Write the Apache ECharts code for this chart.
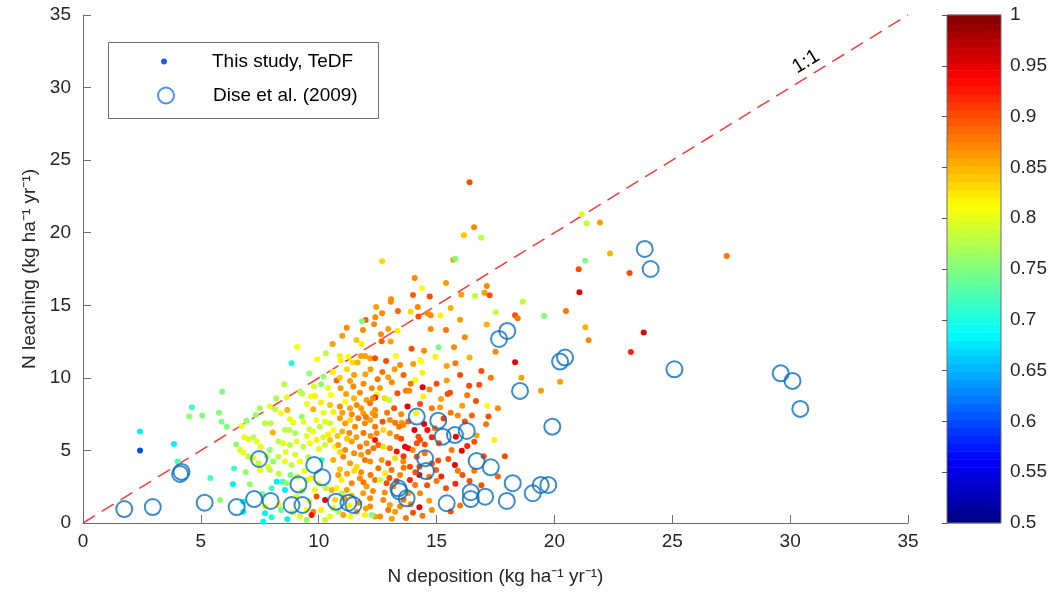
<!DOCTYPE html>
<html><head><meta charset="utf-8">
<script src="https://cdn.jsdelivr.net/npm/echarts@6/dist/echarts.min.js"></script>
<style>html,body{margin:0;padding:0;background:#fff}#c{width:1054px;height:602px}</style>
</head><body><div id="c"></div>
<script>
// ---- DATA ----
// This study, TeDF: [N deposition, N leaching, colour value]
const teDF = [
[2.42,6.30,0.68],[2.42,4.99,0.60],[3.86,5.45,0.68],[4.02,4.23,0.72],[4.62,7.97,0.72],[4.51,7.33,0.76],[5.06,7.40,0.75],[5.77,7.60,0.75],[5.90,9.05,0.75],[5.88,6.98,0.75],[6.10,6.64,0.75],[6.94,7.05,0.76],[6.73,6.69,0.80],[6.41,3.75,0.72],[6.36,2.67,0.68],[5.81,1.59,0.76],[6.80,1.47,0.68],[6.80,0.78,0.68],[7.08,2.67,0.76],
[6.84,5.91,0.80],[7.01,5.77,0.80],[7.23,5.91,0.78],[6.66,5.03,0.79],[6.80,4.85,0.80],[7.01,4.57,0.78],
[8.85,11.00,0.70],[9.09,12.13,0.81],[9.49,0.21,0.76],[7.72,1.13,0.80],[8.47,2.85,0.72],[8.64,2.74,0.76],
[8.54,9.56,0.78],[10.10,9.56,0.76],[10.76,9.81,0.89],[11.33,9.79,0.86],[11.47,9.40,0.87],[9.21,9.05,0.78],[9.67,8.71,0.81],[9.84,8.75,0.82],[10.51,8.82,0.81],[10.93,9.28,0.86],[11.16,8.89,0.86],[11.75,8.98,0.87],[12.03,8.48,0.86],[12.25,9.28,0.87],[12.46,8.82,0.82],[8.64,8.66,0.80],[7.93,8.02,0.80],[8.15,7.83,0.78],[8.39,7.56,0.81],[8.67,7.79,0.85],[9.77,7.83,0.85],[10.48,8.13,0.84],[10.62,7.67,0.82],[10.90,8.02,0.87],[11.12,8.36,0.81],[11.33,7.90,0.86],[11.61,8.13,0.87],[11.89,7.56,0.86],[12.18,8.25,0.88],[12.39,7.79,0.87],
[7.33,7.44,0.76],[9.28,7.33,0.76],[8.78,7.14,0.80],[8.92,6.92,0.81],[7.72,6.87,0.78],[7.96,6.87,0.78],[8.05,6.23,0.85],[8.57,6.41,0.78],[8.75,6.41,0.78],[9.35,6.98,0.80],[9.60,6.46,0.79],[9.77,6.30,0.80],[10.05,6.64,0.78],[10.27,6.98,0.80],[10.48,6.87,0.79],[10.62,6.41,0.81],[10.90,7.21,0.86],[11.12,6.87,0.86],[11.33,7.10,0.83],[11.54,6.64,0.87],[11.68,7.21,0.88],[11.96,6.87,0.87],[12.18,7.10,0.86],[12.39,6.64,0.88],
[7.37,5.61,0.80],[7.54,5.26,0.80],[7.93,5.03,0.76],[8.29,5.61,0.78],[8.50,5.49,0.80],[8.78,5.38,0.78],[9.06,5.61,0.80],[9.35,5.26,0.78],[9.63,5.49,0.81],[9.91,5.72,0.82],[10.27,5.38,0.79],[10.48,5.72,0.84],[10.69,5.26,0.81],[10.83,5.38,0.86],[11.12,5.03,0.87],[11.40,5.61,0.86],[11.75,5.26,0.88],[12.03,5.49,0.87],[12.32,5.15,0.88],[12.53,5.38,0.89],[12.39,5.72,0.93],
[7.23,4.46,0.80],[7.44,4.11,0.78],[7.86,3.88,0.80],[8.07,4.23,0.76],[8.29,4.57,0.78],[8.57,4.23,0.80],[8.85,4.00,0.78],[9.21,4.23,0.81],[9.56,4.57,0.78],[10.13,4.34,0.72],[10.62,4.34,0.85],[11.04,4.57,0.87],[11.33,4.11,0.86],[11.61,3.88,0.83],[11.96,4.34,0.88],[12.18,4.23,0.87],[12.53,3.77,0.88],[7.51,3.65,0.81],[7.93,3.65,0.78],
[8.22,2.85,0.68],[8.57,2.27,0.68],[7.72,0.67,0.68],[7.65,0.09,0.68],[8.67,0.25,0.68],[9.77,0.78,0.87],[9.70,0.55,0.93],[9.91,1.82,0.90],[10.27,1.59,0.95],[10.83,3.31,0.86],[10.97,2.97,0.82],[11.19,2.27,0.86],[11.40,2.74,0.87],[11.75,3.08,0.87],[12.03,2.51,0.86],[12.39,2.97,0.88],[10.55,2.27,0.85],[10.76,2.39,0.82],[10.97,2.05,0.77],[11.89,2.05,0.86],[12.18,1.70,0.87],[10.62,1.01,0.80],[10.83,0.78,0.77],[11.04,0.55,0.86],[11.33,0.44,0.81],[11.61,0.78,0.86],[11.96,0.55,0.82],[12.18,1.13,0.87],[12.39,0.44,0.86],[10.48,0.44,0.80],[10.27,0.21,0.78],[9.49,2.97,0.78],[9.84,2.27,0.80],[9.06,1.82,0.80],[8.29,1.24,0.82],[9.49,0.90,0.81],
[16.38,9.46,0.90],[16.81,9.53,0.90],[14.41,9.35,0.95],[13.70,9.12,0.88],[13.84,9.12,0.87],[13.34,8.94,0.90],[14.44,8.71,0.82],[15.57,8.98,0.90],[15.47,8.89,0.90],[15.19,8.55,0.86],[12.80,8.59,0.83],[12.98,8.48,0.78],[12.39,8.64,0.93],[16.67,8.41,0.90],[16.09,8.08,0.86],[17.15,8.08,0.81],[13.77,8.02,0.95],[15.15,7.95,0.86],[14.13,7.56,0.82],[12.29,7.56,0.86],[12.39,7.40,0.87],[12.71,6.98,0.90],[13.02,7.10,0.87],[13.24,6.91,0.88],[13.52,6.91,0.86],[13.59,6.75,0.87],[13.41,6.64,0.88],[14.47,6.82,0.95],[14.06,6.41,0.95],[14.61,6.41,0.93],[15.82,5.95,0.95],[16.70,6.02,0.86],[17.44,5.72,0.82],[14.93,6.52,0.88],[14.23,5.95,0.90],[14.30,5.72,0.90],[13.66,5.26,0.95],[13.80,5.15,0.94],[14.16,5.49,0.90],[13.99,5.03,0.87],
[12.46,6.18,0.87],[12.74,6.41,0.83],[13.02,6.18,0.86],[13.31,5.95,0.88],[12.74,5.26,0.83],[13.02,5.15,0.88],[13.31,4.92,0.93],[12.67,4.34,0.86],[12.95,4.11,0.90],[13.24,4.46,0.83],[13.59,4.23,0.87],[13.87,3.88,0.90],[14.16,4.57,0.90],[12.81,3.42,0.82],[13.09,3.65,0.88],[13.45,3.31,0.87],[12.60,2.97,0.78],[12.88,2.74,0.90],[13.17,2.51,0.86],[12.74,1.59,0.87],[13.02,1.24,0.86],[13.45,1.13,0.87],[12.95,0.90,0.88],[13.24,0.78,0.86],[12.60,0.44,0.87],[12.25,0.55,0.75],
[16.07,4.98,0.95],[15.50,4.41,0.90],[15.07,4.30,0.90],[15.78,4.00,0.95],[14.27,3.31,0.95],[14.27,3.88,0.90],[14.30,2.05,0.87],[14.69,1.54,0.86],[14.27,1.08,0.95],[15.64,5.03,0.88],[14.98,3.65,0.89],[14.69,3.19,0.88],[14.09,2.62,0.88],[13.80,2.05,0.86],[13.87,2.97,0.92],
[9.94,11.28,0.81],[10.93,11.19,0.82],[11.79,11.50,0.86],[11.96,11.50,0.86],[12.18,11.35,0.86],[12.39,11.35,0.90],[11.43,11.05,0.83],[11.65,11.05,0.85],[12.86,11.16,0.90],[14.31,11.23,0.81],[14.34,11.12,0.81],[13.45,10.89,0.87],[14.01,10.96,0.86],[13.22,10.59,0.86],[11.98,10.25,0.86],[14.40,10.36,0.82],[15.43,10.82,0.86],[16.90,10.48,0.90],[10.20,10.08,0.76],[12.95,10.04,0.86],[14.09,9.86,0.81],[15.43,9.81,0.86],
[16.40,23.48,0.90],[16.59,20.38,0.87],[16.16,19.83,0.84],[16.89,19.66,0.78],[12.69,18.03,0.83],[15.71,18.13,0.86],[15.80,18.20,0.75],[14.07,16.88,0.87],[15.40,16.54,0.86],[14.38,16.17,0.81],[17.13,16.33,0.87],[17.03,15.87,0.86],[17.25,15.69,0.90],[16.05,15.73,0.86],[16.63,15.64,0.78],[14.00,15.71,0.89],[14.71,15.60,0.90],[13.07,15.41,0.87],[13.06,15.25,0.87],[12.44,14.88,0.86],[14.20,14.88,0.87],[15.60,14.81,0.85],[13.36,14.61,0.89],[12.69,14.45,0.87],[13.90,14.56,0.83],[14.61,14.45,0.87],[14.23,14.22,0.90],[14.75,14.31,0.87],[15.16,14.29,0.82],[11.99,13.99,0.89],[12.40,14.17,0.87],[11.84,13.90,0.75],[12.35,13.69,0.87],[11.19,13.46,0.87],[12.95,13.37,0.86],[13.35,13.25,0.82],[11.88,13.30,0.87],[14.75,13.37,0.87],[17.13,13.67,0.85],[12.64,13.00,0.87],[10.59,12.34,0.86],[12.67,12.52,0.89],[13.05,12.50,0.86],[11.82,12.34,0.82],[15.08,12.11,0.75],[13.94,12.01,0.90],[14.47,11.87,0.87],[15.74,12.11,0.87],[10.90,11.51,0.82],[11.26,11.46,0.81],[13.28,11.53,0.81],[14.95,11.46,0.82],
[21.16,21.27,0.80],[21.37,20.65,0.78],[21.93,20.70,0.86],[22.36,18.56,0.85],[21.30,18.06,0.75],[21.03,17.48,0.90],[23.19,17.23,0.90],[21.06,15.90,0.95],[18.66,15.25,0.78],[17.51,14.52,0.78],[18.33,14.31,0.90],[18.44,14.10,0.88],[19.56,14.26,0.75],[20.49,14.61,0.88],[21.31,13.48,0.85],[21.45,12.59,0.87],[23.79,13.12,0.95],[23.24,11.79,0.92],[27.31,18.40,0.88],[20.24,9.74,0.86],
[18.33,11.07,0.95],[18.60,10.00,0.86],[19.43,9.12,0.86],[17.20,7.33,0.90],
[9.10,3.20,0.79],[9.40,3.60,0.80],[9.70,3.10,0.82],[10.00,2.70,0.80],[10.30,2.40,0.78],[9.30,2.20,0.77],[9.60,1.50,0.80],[10.10,0.90,0.82],[8.90,0.70,0.78],[9.20,0.45,0.80],[10.00,5.10,0.80],[10.20,5.90,0.79],[9.50,6.00,0.80],[9.00,6.20,0.77],[10.40,6.10,0.82],[10.80,6.00,0.84],[9.90,7.10,0.81],[10.20,7.60,0.80],[9.50,8.20,0.80],[10.10,8.30,0.82],[10.40,9.30,0.80],[9.80,9.40,0.79],[10.60,10.40,0.82],[10.90,10.00,0.84],[9.60,10.30,0.76],[11.20,10.60,0.83],[11.50,10.20,0.86],[11.60,12.60,0.84],[11.00,12.90,0.86],[10.30,11.70,0.78],
[10.90,3.70,0.84],[11.20,3.40,0.86],[11.50,3.60,0.83],[11.80,3.50,0.87],[12.20,3.30,0.88],[11.10,1.70,0.86],[11.40,1.90,0.84],[11.70,1.40,0.87],[12.00,1.00,0.86],[11.30,1.20,0.82],[10.70,1.60,0.83],[11.90,2.80,0.88],[12.30,2.20,0.87],[11.00,6.30,0.85],[11.30,6.20,0.87],[11.60,5.90,0.86],[11.90,6.20,0.88],[12.20,6.00,0.87],[11.20,5.80,0.84],[11.50,4.80,0.87],[11.80,4.70,0.86],[12.10,4.90,0.88],[10.90,4.90,0.83],[11.00,7.60,0.86],[11.40,7.50,0.87],[11.80,7.90,0.86],[12.00,7.30,0.88],[12.30,8.60,0.87],[11.50,8.60,0.85],[11.90,9.60,0.87],[12.50,9.90,0.88],[12.20,10.60,0.86],[12.70,10.40,0.88],[13.10,9.70,0.87],[13.60,10.20,0.89],[13.90,9.60,0.88],[12.60,9.30,0.86],
[12.90,7.60,0.88],[13.20,7.90,0.90],[13.50,7.50,0.87],[13.80,7.00,0.89],[14.30,8.20,0.90],[14.80,7.90,0.88],[14.70,9.20,0.87],[15.00,9.60,0.90],[15.30,7.20,0.91],[15.60,7.60,0.88],[14.50,5.40,0.90],[14.80,5.90,0.92],[15.10,5.50,0.90],[13.50,5.80,0.90],[13.60,4.60,0.91],[14.50,4.80,0.88],[14.80,4.10,0.90],[14.60,2.60,0.90],[15.00,2.90,0.88],[15.20,3.20,0.92],[13.60,3.80,0.88],[13.30,2.90,0.90],[13.60,1.60,0.88],[13.90,1.30,0.87],[14.00,0.70,0.90],[14.40,0.50,0.88],[14.80,0.90,0.87],[13.10,0.30,0.86],[13.70,0.35,0.88],[12.80,2.10,0.87],[13.00,3.10,0.90],[14.10,3.50,0.90],
[15.40,2.40,0.90],[15.80,2.70,0.92],[16.10,3.30,0.90],[15.90,3.60,0.88],[16.40,2.90,0.90],[16.00,1.20,0.88],[15.60,0.80,0.90],[16.90,2.60,0.90],[16.60,3.60,0.88],[17.00,4.60,0.90],[17.60,3.20,0.89],[16.30,5.30,0.92],[16.60,5.60,0.90],[17.10,6.80,0.88],[16.20,7.00,0.90],[15.90,7.40,0.87],[16.50,7.40,0.89],[17.60,7.90,0.87],[16.30,8.80,0.88],[17.90,4.60,0.90],[17.30,10.00,0.88],[17.50,11.80,0.87],[16.00,10.20,0.90],[15.80,11.00,0.88],[16.40,11.40,0.85],[16.20,12.80,0.87],[15.40,13.30,0.88],[16.00,14.00,0.86],
[7.60,2.00,0.74],[8.00,2.40,0.72],[8.30,3.40,0.78],[7.80,4.60,0.78],[8.60,4.90,0.80],[9.00,4.70,0.79],[6.50,5.40,0.76],[5.40,3.10,0.72],[6.90,3.50,0.76],[8.80,3.30,0.75],[8.00,0.40,0.70],[8.40,0.90,0.74],[9.30,8.90,0.78],[8.20,8.60,0.77],[7.50,7.90,0.77]
];
// Dise et al. (2009): [N deposition, N leaching]
const dise = [
[1.75,0.96],[2.96,1.10],[4.12,3.38],[4.18,3.52],[5.16,1.40],[6.52,1.10],[7.26,1.65],[7.47,4.41],[7.96,1.52],[8.85,1.24],[9.14,2.66],[9.31,1.24],[9.81,4.00],[10.15,3.15],[10.73,1.47],[11.26,1.40],[11.47,1.24],[13.38,2.39],[13.42,2.18],[13.73,1.70],[14.16,7.33],[14.51,4.46],[14.55,3.58],[15.07,7.05],[15.26,5.95],[15.43,1.36],[15.78,6.06],[16.28,6.34],[16.45,2.12],[16.45,1.65],[16.70,4.27],[17.06,1.81],[17.30,3.84],[17.65,12.68],[18.00,13.23],[17.98,1.52],[18.23,2.74],[18.54,9.10],[19.08,2.05],[19.42,2.62],[19.74,2.62],[19.91,6.64],[20.24,11.12],[20.45,11.40],[23.83,18.88],[24.08,17.50],[25.09,10.59],[29.60,10.31],[30.10,9.79],[30.43,7.86]
];
const oneToOne = [[0,0],[35,35]];
const oneToOneLabelPos = [[30.67,31.77]];
const axisMin = 0, axisMax = 35, axisStep = 5;
const cbMin = 0.5, cbMax = 1, cbStep = 0.05;
const nLevels = 64;
// colormap (jet) levels for the colour bar
const cbLevels = [];
for (let i = 0; i < nLevels; i++) cbLevels.push(cbMin + (i + 0.5) * (cbMax - cbMin) / nLevels);
const jet = ['#000080','#0000FF','#0080FF','#00FFFF','#80FF80','#FFFF00','#FF8000','#FF0000','#800000'];

const FONT = 'Liberation Sans, Arial, Helvetica, sans-serif';
const TXT = '#262626';
const AX = '#6e6e6e';
const half = (cbMax - cbMin) / nLevels / 2;

const chart = echarts.init(document.getElementById('c'), null, {renderer: 'canvas'});
chart.setOption({
  animation: false,
  backgroundColor: '#fff',
  textStyle: {fontFamily: FONT},
  grid: [
    {left: 83, top: 15, width: 825, height: 508},
    {left: 947, top: 15, width: 54, height: 508, show: true, borderColor: AX, borderWidth: 1, backgroundColor: 'transparent', z: 10}
  ],
  xAxis: [
    {type: 'value', gridIndex: 0, min: axisMin, max: axisMax, interval: axisStep,
     axisLine: {onZero: false, lineStyle: {color: AX}},
     axisTick: {inside: true, length: 8, lineStyle: {color: AX}},
     splitLine: {show: false},
     axisLabel: {fontSize: 19, color: TXT, margin: 9, fontFamily: FONT},
     name: 'N deposition (kg ha\u207B\u00B9 yr\u207B\u00B9)', nameLocation: 'middle', nameGap: 44,
     nameTextStyle: {fontSize: 19, color: TXT, fontFamily: FONT}},
    {type: 'value', gridIndex: 1, min: 0, max: 1, show: false}
  ],
  yAxis: [
    {type: 'value', gridIndex: 0, min: axisMin, max: axisMax, interval: axisStep,
     axisLine: {onZero: false, lineStyle: {color: AX}},
     axisTick: {inside: true, length: 8, lineStyle: {color: AX}},
     splitLine: {show: false},
     axisLabel: {fontSize: 19, color: TXT, margin: 12, fontFamily: FONT},
     name: 'N leaching (kg ha\u207B\u00B9 yr\u207B\u00B9)', nameLocation: 'middle', nameGap: 44, nameRotate: 90,
     nameTextStyle: {fontSize: 19, color: TXT, fontFamily: FONT}},
    {type: 'value', gridIndex: 1, min: cbMin, max: cbMax, interval: cbStep, position: 'right', z: 10,
     axisLine: {show: false},
     axisTick: {inside: true, length: 5, lineStyle: {color: '#555'}},
     splitLine: {show: false},
     axisLabel: {fontSize: 19, color: TXT, margin: 9, fontFamily: FONT,
       formatter: v => String(+v.toFixed(2))}}
  ],
  visualMap: [{type: 'continuous', show: false, min: cbMin, max: cbMax, dimension: 2,
    seriesIndex: [0, 4], inRange: {color: jet}}],
  legend: [
    {data: [{name: 'This study, TeDF', icon: 'circle', itemStyle: {color: '#1f5ff0'}}],
     left: 161, top: 52, padding: 0, itemWidth: 6, itemHeight: 6, selectedMode: false,
     textStyle: {fontSize: 19, color: '#000', fontFamily: FONT, padding: [0, 0, 0, 40]}},
    {data: [{name: 'Dise et al. (2009)', icon: 'circle', itemStyle: {color: 'rgba(0,0,0,0)', borderColor: '#1f78e0', borderWidth: 2}}],
     left: 157, top: 86, padding: 0, itemWidth: 16, itemHeight: 16, selectedMode: false,
     textStyle: {fontSize: 19, color: '#000', fontFamily: FONT, padding: [0, 0, 0, 34]}}
  ],
  graphic: [{type: 'rect', left: 108, top: 42, z: 0,
    shape: {width: 270, height: 76}, style: {fill: '#fff', stroke: AX, lineWidth: 1}}],
  series: [
    {name: 'This study, TeDF', type: 'scatter', xAxisIndex: 0, yAxisIndex: 0, data: teDF,
     symbolSize: 6, z: 2, itemStyle: {opacity: 1}, silent: true},
    {name: 'Dise et al. (2009)', type: 'scatter', xAxisIndex: 0, yAxisIndex: 0, data: dise,
     symbolSize: 16, z: 3, silent: true,
     itemStyle: {color: 'rgba(0,0,0,0)', borderColor: '#0a6fbd', borderWidth: 2}},
    {type: 'line', xAxisIndex: 0, yAxisIndex: 0, data: oneToOne, symbol: 'none', z: 1, silent: true,
     lineStyle: {color: '#f43c3c', width: 1.5, type: [14, 8]},
     markPoint: {silent: true, symbol: 'circle', symbolSize: 0,
       data: [{coord: oneToOneLabelPos[0], value: '1:1'}],
       label: {show: true, formatter: '1:1', rotate: 31.6, position: 'inside', fontSize: 20,
         color: '#000', fontFamily: FONT}}},
    {type: 'scatter', xAxisIndex: 0, yAxisIndex: 0, data: [], symbolSize: 0, silent: true},
    {type: 'custom', xAxisIndex: 1, yAxisIndex: 1, silent: true, z: 2,
     data: cbLevels.map(v => [0, v, v]),
     encode: {x: 0, y: 1},
     renderItem: function (params, api) {
       const v = api.value(1);
       const p0 = api.coord([0, v - half]);
       const p1 = api.coord([1, v + half]);
       return {type: 'rect',
         shape: {x: p0[0], y: p1[1] - 0.3, width: p1[0] - p0[0], height: p0[1] - p1[1] + 0.6},
         style: {fill: api.visual('color')}};
     }}
  ]
});
</script></body></html>
